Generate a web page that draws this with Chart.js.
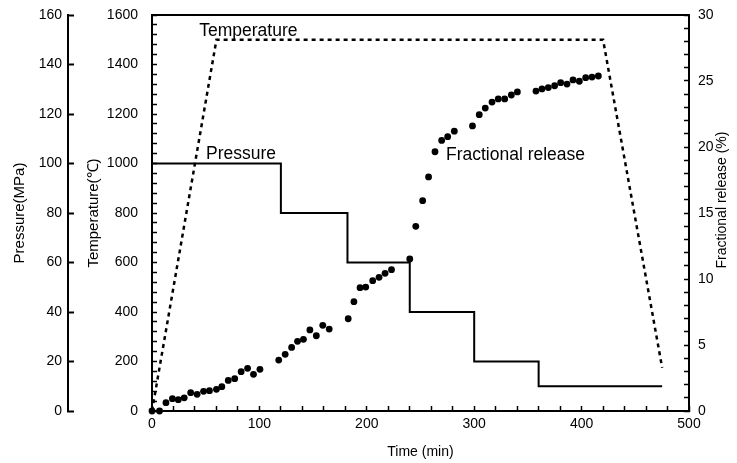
<!DOCTYPE html>
<html>
<head>
<meta charset="utf-8">
<script src="https://cdn.jsdelivr.net/npm/chart.js@4/dist/chart.umd.min.js"></script>
<style>
  html, body { margin: 0; padding: 0; background: #fff; }
  #wrap { width: 737px; height: 463px; }
</style>
</head>
<body>
<div id="wrap"><canvas id="myChart"></canvas></div>
<script>
// fractional release points (min, %)
const releaseTime = [0, 7, 13, 19, 24.5, 30, 36, 42, 48, 53.5, 60, 65, 71, 77, 83, 89, 94.5, 100.5,
  118, 124, 130, 135.5, 141, 147, 153, 159, 165, 182.7, 188, 193.7, 199, 205.5, 211.4, 217, 223,
  240, 245.6, 252, 257.5, 263.5, 269.7, 275.3, 281.5, 298.4, 304.7, 310.3, 316.6, 322.4, 328.4,
  334.6, 340.2, 357.5, 363.1, 369, 374.9, 380.5, 386.4, 392, 397.9, 403.8, 409.7, 415.6];
const releaseValue = [0, 0, 0.63, 0.93, 0.86, 1.0, 1.39, 1.26, 1.49, 1.54, 1.64, 1.84, 2.32, 2.45, 2.98, 3.23, 2.78, 3.16,
  3.86, 4.29, 4.82, 5.28, 5.43, 6.14, 5.7, 6.49, 6.21, 6.99, 8.28, 9.34, 9.39, 9.87, 10.13, 10.43, 10.71,
  11.52, 13.99, 15.93, 17.73, 19.64, 20.5, 20.78, 21.2, 21.6, 22.45, 22.95, 23.4, 23.64, 23.64,
  23.94, 24.17, 24.24, 24.4, 24.5, 24.64, 24.87, 24.77, 25.08, 24.98, 25.25, 25.3, 25.38];

// temperature program (min, deg C)
const tempTime = [0, 60, 420, 475];
const tempValue = [0, 1500, 1500, 175];

// pressure steps (min, MPa) - level starts at each time
const pressTime = [0, 120, 182, 240, 300, 360, 475];
const pressValue = [100, 80, 60, 40, 20, 10, 10];

const toXY = (xs, ys) => xs.map((x, i) => ({ x: x, y: ys[i] }));

Chart.defaults.font.family = "'Liberation Sans', Arial, sans-serif";
Chart.defaults.font.size = 14;
Chart.defaults.color = "#000";

const FONT = "'Liberation Sans', 'DejaVu Sans', Arial, sans-serif";

// in-plot labels and the right title
const textPlugin = {
  id: "textLabels",
  afterDraw(chart) {
    const ctx = chart.ctx;
    const { x, yT, yP, yR } = chart.scales;
    ctx.save();
    ctx.fillStyle = "#000";
    ctx.font = "17.5px " + FONT;
    ctx.textAlign = "left";
    ctx.textBaseline = "alphabetic";
    ctx.fillText("Temperature", x.getPixelForValue(44), yT.getPixelForValue(1515));
    ctx.fillText("Pressure", x.getPixelForValue(50.3), yP.getPixelForValue(101.8));
    ctx.fillText("Fractional release", x.getPixelForValue(273.7), yR.getPixelForValue(19.0));

    ctx.font = "14px " + FONT;
    ctx.translate(722, 200);
    ctx.rotate(-Math.PI / 2);
    ctx.textAlign = "center";
    ctx.textBaseline = "middle";
    ctx.fillText("Fractional release (%)", 0, 0);
    ctx.restore();
  },
};

const data = {
  datasets: [
    {
      label: "Fractional release",
      data: toXY(releaseTime, releaseValue),
      yAxisID: "yR",
      showLine: false,
      pointRadius: 3.4,
      pointBackgroundColor: "#000",
      pointBorderWidth: 0,
      clip: false,
    },
    {
      label: "Temperature",
      data: toXY(tempTime, tempValue),
      yAxisID: "yT",
      showLine: true,
      borderColor: "#000",
      borderWidth: 2.5,
      borderDash: [4, 4],
      pointRadius: 0,
    },
    {
      label: "Pressure",
      data: toXY(pressTime, pressValue),
      yAxisID: "yP",
      showLine: true,
      stepped: "before",
      borderColor: "#000",
      borderWidth: 2,
      pointRadius: 0,
    },
  ],
};

const axisBorder = { display: true, color: "#000", width: 2 };

// fixed width for a y axis, and no extra top/bottom room from the label padding
const fixWidth = (w) => (scale) => {
  scale.width = w;
  scale.paddingTop = 0;
  scale.paddingBottom = 0;
};

new Chart(document.getElementById("myChart"), {
  type: "scatter",
  data: data,
  options: {
    responsive: true,
    maintainAspectRatio: false,
    animation: false,
    layout: { padding: 0 },
    plugins: {
      legend: { display: false },
      tooltip: { enabled: false },
    },
    scales: {
      x: {
        type: "linear",
        position: "bottom",
        min: 0,
        max: 500,
        border: axisBorder,
        grid: { drawOnChartArea: false, tickLength: -5, tickColor: "#000", tickWidth: 1.5 },
        ticks: {
          stepSize: 20,
          autoSkip: false,
          maxRotation: 0,
          padding: 10,
          callback: (v) => (v % 100 === 0 ? v : ""),
        },
        title: {
          display: true,
          text: "Time (min)",
          font: { size: 14 },
          padding: { top: 0, bottom: 2 },
        },
        afterFit: (scale) => { scale.height = 52; },
      },
      // only there for the top edge of the frame
      xTop: {
        type: "linear",
        position: "top",
        min: 0,
        max: 500,
        border: axisBorder,
        grid: { display: false },
        ticks: { display: false },
        afterFit: (scale) => { scale.height = 15; },
      },
      yP: {
        type: "linear",
        position: "left",
        weight: 1,
        min: 0,
        max: 160,
        border: axisBorder,
        grid: { drawOnChartArea: false, tickLength: -6, tickColor: "#000", tickWidth: 2 },
        ticks: { stepSize: 20, autoSkip: false, padding: 12 },
        title: {
          display: true,
          text: "Pressure(MPa)",
          font: { size: 15 },
          padding: { top: 11, bottom: 0 },
        },
        afterFit: fixWidth(68),
      },
      yT: {
        type: "linear",
        position: "left",
        weight: 0,
        min: 0,
        max: 1600,
        border: axisBorder,
        grid: { drawOnChartArea: false, tickLength: -5, tickColor: "#000", tickWidth: 1.5 },
        ticks: {
          stepSize: 40,
          autoSkip: false,
          padding: 19,
          callback: (v) => (v % 200 === 0 ? v : ""),
        },
        title: {
          display: true,
          text: "Temperature(℃)",
          font: { size: 15 },
          padding: { top: 16.5, bottom: 0 },
        },
        afterFit: fixWidth(84),
      },
      yR: {
        type: "linear",
        position: "right",
        min: 0,
        max: 30,
        border: axisBorder,
        grid: { drawOnChartArea: false, tickLength: -5, tickColor: "#000", tickWidth: 1.5 },
        ticks: {
          stepSize: 1,
          autoSkip: false,
          padding: 14,
          callback: (v) => (v % 5 === 0 ? v : ""),
        },
        afterFit: fixWidth(48),
      },
    },
  },
  plugins: [textPlugin],
});
</script>
</body>
</html>
